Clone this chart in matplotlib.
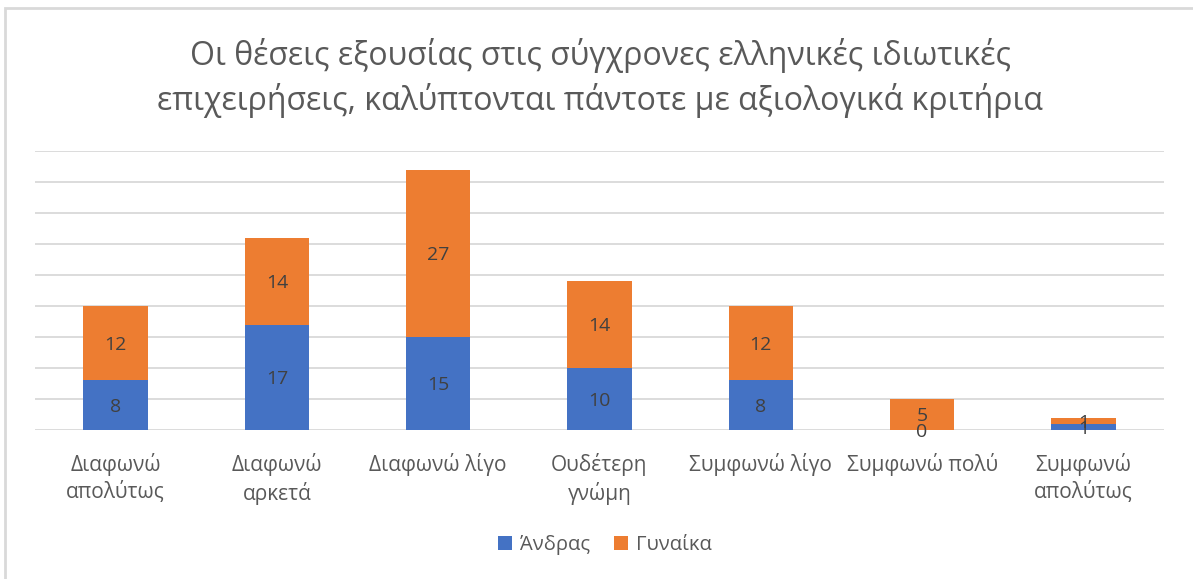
import matplotlib
matplotlib.use("Agg")
import matplotlib.pyplot as plt
from matplotlib.patches import Rectangle
import numpy as np

plt.rcParams['font.family'] = ['Open Sans', 'Noto Sans', 'DejaVu Sans']

categories = ["Διαφωνώ\nαπολύτως", "Διαφωνώ\nαρκετά", "Διαφωνώ λίγο", "Ουδέτερη\nγνώμη",
              "Συμφωνώ λίγο", "Συμφωνώ πολύ", "Συμφωνώ\nαπολύτως"]
men = [8, 17, 15, 10, 8, 0, 1]
women = [12, 14, 27, 14, 12, 5, 1]
series_names = ["Άνδρας", "Γυναίκα"]
title = "Οι θέσεις εξουσίας στις σύγχρονες ελληνικές ιδιωτικές\nεπιχειρήσεις, καλύπτονται πάντοτε με αξιολογικά κριτήρια"

blue = "#4472C4"
orange = "#ED7D31"
W, H = 1193, 579
fig = plt.figure(figsize=(W/100, H/100), dpi=100)

# outer frame
fig.patches.append(Rectangle((5.5/W, -0.1), 1.2, 1 - 7.5/H + 0.1, transform=fig.transFigure,
                             fill=False, edgecolor="#D9D9D9", linewidth=2))

ax = fig.add_axes([35/W, 1 - 430/H, (1164-35)/W, (430-151)/H])
x = np.arange(len(categories))
bw = 0.40
b1 = ax.bar(x, men, bw, color=blue, label=series_names[0], zorder=3)
b2 = ax.bar(x, women, bw, bottom=men, color=orange, label=series_names[1], zorder=3)

for i in range(len(categories)):
    ax.text(x[i], men[i]/2 - 0.3, str(men[i]), ha="center", va="center", fontsize=14, color="#404040", zorder=4)
    ax.text(x[i], men[i] + women[i]/2 - 0.3, str(women[i]), ha="center", va="center", fontsize=14, color="#404040", zorder=4)

ax.set_xlim(-0.5, len(categories) - 0.5)
ax.set_ylim(0, 45)
ax.set_yticks(np.arange(0, 46, 5))
ax.yaxis.grid(True, color="#D9D9D9", linewidth=1.3, zorder=0)
ax.tick_params(axis="y", left=False, labelleft=False)
ax.tick_params(axis="x", bottom=False, labelsize=15, labelcolor="#595959", pad=13)
ax.set_xticks(x)
ax.set_xticklabels(categories, linespacing=1.32)
for s in ax.spines.values():
    s.set_visible(False)

fig.text(600/W, 1 - 78/H, title, ha="center", va="center", fontsize=23, color="#595959", linespacing=1.4)

leg = fig.legend(handles=[b1, b2], labels=series_names, loc="center", bbox_to_anchor=(605/W, 1 - 545/H),
                 ncol=2, frameon=False, fontsize=14.5, handlelength=0.7, handleheight=0.7,
                 handletextpad=0.4, columnspacing=1.2)
for t in leg.get_texts():
    t.set_color("#595959")

fig.savefig("out.png", dpi=100)
